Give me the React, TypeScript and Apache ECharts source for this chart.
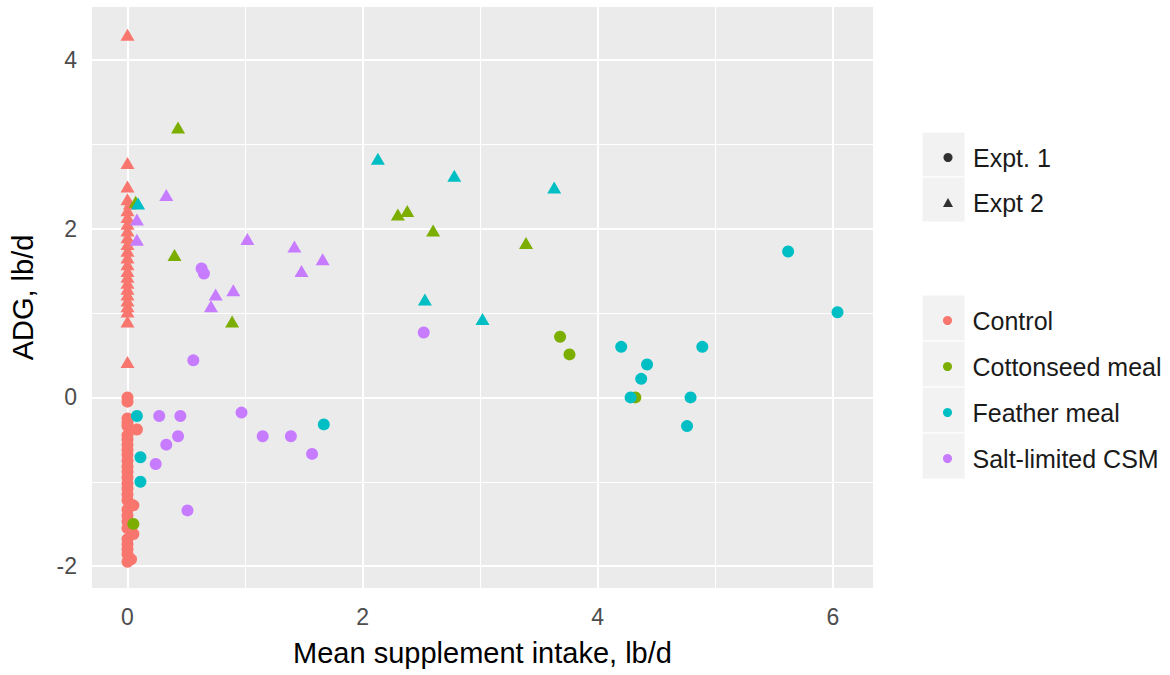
import React, { useEffect, useRef } from "react";
import * as echarts from "echarts";

const controlE1 = [[0,0.0],[0,-0.05],[0,-0.25],[0,-0.3],[0,-0.34],[0.08,-0.38],[0,-0.45],[0,-0.5],[0,-0.56],[0,-0.62],[0,-0.68],[0,-0.75],[0,-0.82],[0,-0.88],[0,-0.95],[0,-1.02],[0,-1.08],[0,-1.15],[0,-1.22],[0.05,-1.28],[0,-1.33],[0,-1.4],[0,-1.47],[0,-1.55],[0.05,-1.62],[0,-1.68],[0,-1.74],[0,-1.8],[0,-1.86],[0.03,-1.92],[0,-1.95]];
const controlE2 = [[0,4.30],[0,2.78],[0,2.50],[0,2.35],[0.02,2.30],[0,2.22],[0,2.14],[0,2.06],[0,1.98],[0,1.90],[0,1.82],[0,1.74],[0,1.66],[0,1.58],[0,1.50],[0,1.43],[0,1.36],[0,1.29],[0,1.22],[0,1.15],[0,1.08],[0,1.02],[0,0.90],[0,0.42]];
const cottonE1 = [[3.68,0.72],[3.76,0.51],[4.32,0.0],[0.05,-1.50]];
const cottonE2 = [[0.43,3.20],[0.07,2.32],[0.40,1.69],[0.89,0.90],[2.30,2.17],[2.38,2.21],[2.60,1.98],[3.39,1.83]];
const featherE1 = [[6.04,1.01],[5.62,1.73],[4.20,0.60],[4.89,0.60],[4.42,0.39],[4.37,0.22],[4.28,0.0],[4.79,0.0],[4.76,-0.34],[1.67,-0.32],[0.08,-0.22],[0.11,-0.71],[0.11,-1.0]];
const featherE2 = [[0.09,2.30],[2.13,2.83],[2.78,2.63],[3.63,2.49],[2.53,1.16],[3.02,0.93]];
const saltE1 = [[2.52,0.77],[0.56,0.44],[0.63,1.53],[0.65,1.47],[0.27,-0.22],[0.45,-0.22],[0.97,-0.18],[0.43,-0.46],[0.33,-0.56],[0.24,-0.79],[1.15,-0.46],[1.39,-0.46],[1.57,-0.67],[0.51,-1.34]];
const saltE2 = [[0.33,2.40],[0.08,2.11],[0.08,1.87],[1.02,1.88],[1.42,1.79],[1.66,1.64],[1.48,1.50],[0.90,1.27],[0.75,1.22],[0.71,1.08]];

const groups = ["Control", "Cottonseed meal", "Feather meal", "Salt-limited CSM"];
const groupColors = ["#F8766D", "#7CAE00", "#00BFC4", "#C77CFF"];
const expts = ["Expt. 1", "Expt 2"];
const xTicks = [0, 2, 4, 6];
const yTicks = [-2, 0, 2, 4];
const xMinor = [1, 3, 5];
const yMinor = [-1, 1, 3];

const FONT = "Liberation Sans, Arial, sans-serif";

export default function App() {
  const ref = useRef<HTMLDivElement>(null);
  useEffect(() => {
    const chart = echarts.init(ref.current!, null, { renderer: "svg" });
    const e1 = [controlE1, cottonE1, featherE1, saltE1];
    const e2 = [controlE2, cottonE2, featherE2, saltE2];
    const series: any[] = [
      {
        type: "scatter",
        data: [],
        z: 1,
        silent: true,
        markLine: {
          z: 1,
          silent: true,
          symbol: ["none", "none"],
          label: { show: false },
          lineStyle: { color: "#ffffff", width: 1, type: "solid" },
          data: [...xMinor.map((v) => ({ xAxis: v })), ...yMinor.map((v) => ({ yAxis: v }))],
        },
      },
      {
        type: "scatter",
        data: [],
        z: 1,
        silent: true,
        markLine: {
          z: 1,
          silent: true,
          symbol: ["none", "none"],
          label: { show: false },
          lineStyle: { color: "#ffffff", width: 2, type: "solid" },
          data: [...xTicks.map((v) => ({ xAxis: v })), ...yTicks.map((v) => ({ yAxis: v }))],
        },
      },
    ];
    groups.forEach((g, i) => {
      series.push({
        name: g,
        type: "scatter",
        data: e1[i],
        symbol: "circle",
        symbolSize: 12,
        itemStyle: { color: groupColors[i], opacity: 1 },
        z: 6,
      });
      series.push({
        name: g,
        type: "scatter",
        data: e2[i],
        symbol: "triangle",
        symbolSize: [14, 12],
        itemStyle: { color: groupColors[i], opacity: 1 },
        z: 6,
      });
    });
    series.push({ name: expts[0], type: "scatter", data: [], symbol: "circle", itemStyle: { color: "#000" } });
    series.push({ name: expts[1], type: "scatter", data: [], symbol: "triangle", itemStyle: { color: "#000" } });

    const legendText = { fontFamily: FONT, fontSize: 25, color: "#1a1a1a", lineHeight: 24, padding: [0, 0, 0, 15] };
    const keyRects: any[] = [];
    [[132, 45], [177, 45], [295, 46], [341, 46], [387, 46], [433, 46]].forEach(([y, h]) => {
      keyRects.push({
        type: "rect",
        shape: { x: 922, y, width: 43, height: h },
        style: { fill: "#F2F2F2", stroke: "#ffffff", lineWidth: 1 },
        z: -1,
      });
    });

    chart.setOption({
      animation: false,
      backgroundColor: "#ffffff",
      grid: {
        left: 88,
        right: 297,
        top: 7,
        bottom: 87,
        show: true,
        backgroundColor: "#EBEBEB",
        borderWidth: 0,
      },
      xAxis: {
        type: "value",
        min: -0.302,
        max: 6.342,
        name: "Mean supplement intake, lb/d",
        nameLocation: "middle",
        nameGap: 50,
        nameTextStyle: { fontFamily: FONT, fontSize: 29, color: "#000" },
        axisLine: { show: false },
        splitLine: { show: false },
        axisTick: { show: true, length: 8, customValues: xTicks, lineStyle: { color: "#333", width: 1.5 } },
        axisLabel: { customValues: xTicks, margin: 17, fontFamily: FONT, fontSize: 23, color: "#4D4D4D" },
      },
      yAxis: {
        type: "value",
        min: -2.26,
        max: 4.63,
        name: "ADG, lb/d",
        nameLocation: "middle",
        nameGap: 55,
        nameTextStyle: { fontFamily: FONT, fontSize: 29, color: "#000" },
        axisLine: { show: false },
        splitLine: { show: false },
        axisTick: { show: true, length: 8, customValues: yTicks, lineStyle: { color: "#333", width: 1.5 } },
        axisLabel: { customValues: yTicks, margin: 15, fontFamily: FONT, fontSize: 23, color: "#4D4D4D" },
      },
      legend: [
        {
          orient: "vertical",
          left: 938,
          top: 140,
          itemWidth: 10,
          itemHeight: 9,
          itemGap: 20,
          textStyle: legendText,
          data: [
            { name: expts[0], icon: "circle" },
            { name: expts[1], icon: "triangle" },
          ],
        },
        {
          orient: "vertical",
          left: 938,
          top: 303,
          itemWidth: 10,
          itemHeight: 9,
          itemGap: 21,
          textStyle: legendText,
          data: groups.map((g) => ({ name: g, icon: "circle" })),
        },
      ],
      graphic: keyRects,
      series,
    });
    return () => chart.dispose();
  }, []);
  return <div ref={ref} style={{ width: 1170, height: 675, position: "absolute", left: 0, top: 0 }} />;
}
